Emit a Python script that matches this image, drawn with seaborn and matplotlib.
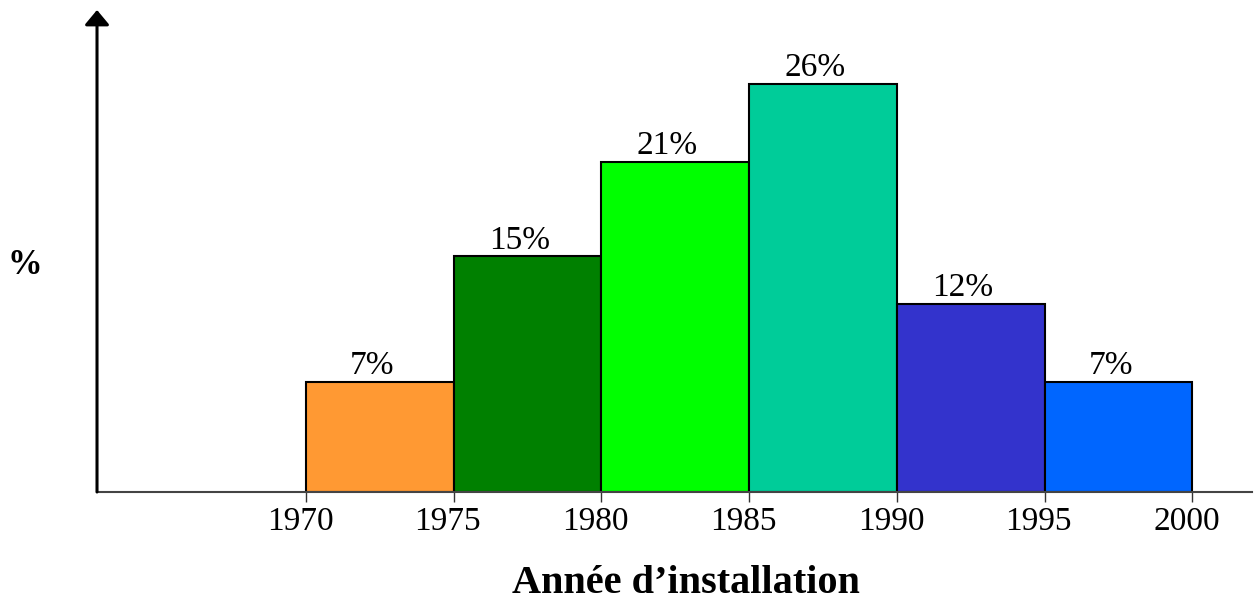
import numpy as np
import matplotlib
matplotlib.use("Agg")
import matplotlib.pyplot as plt
import matplotlib.transforms as mtrans
import seaborn as sns

# data
edges = [1970, 1975, 1980, 1985, 1990, 1995, 2000]
pcts = [7, 15, 21, 26, 12, 7]
labels = ["7%", "15%", "21%", "26%", "12%", "7%"]
colors = ["#FF9933", "#008000", "#00FF00", "#00CC99", "#3333CC", "#0066FF"]
ticks = [1970, 1975, 1980, 1985, 1990, 1995, 2000]

sns.set_style("white")
plt.rcParams['font.family'] = ['Liberation Serif', 'DejaVu Serif']
plt.rcParams['text.color'] = 'black'

fig = plt.figure(figsize=(12.55, 6.05), dpi=100)
ax = fig.add_axes([0.0773, 0.1868, 0.9207, 0.7967])

mids = [(a + b) / 2 for a, b in zip(edges[:-1], edges[1:])]
sns.histplot(x=mids, weights=pcts, bins=edges, ax=ax, stat="count",
             edgecolor="black", linewidth=1.5, alpha=1)

for p, c in zip(ax.patches, colors):
    p.set_facecolor(c)

# labels sit slightly left of bar centres in the original
shift = mtrans.ScaledTranslation(-8 / 100, 0, fig.dpi_scale_trans)
for m, v, lab in zip(mids, pcts, labels):
    ax.text(m, v + 0.05, lab, ha="center", va="bottom", fontsize=24,
            color="black", transform=ax.transData + shift)

ax.set_xlim(1962.93, 2002.03)
ax.set_ylim(0, 30.7)
ax.set_xticks(ticks)
ax.set_xticklabels([])
# tick labels drawn by hand, nudged a bit left like the original
tshift = mtrans.ScaledTranslation(-6 / 100, -15 / 100, fig.dpi_scale_trans)
for t in ticks:
    ax.text(t, 0, str(t), ha="center", va="top", fontsize=24, color="black",
            transform=ax.get_xaxis_transform() + tshift)
ax.set_yticks([])
ax.set_ylabel("")
ax.set_xlabel("Année d\u2019installation", fontsize=29, fontweight="bold",
              color="black")
ax.xaxis.set_label_coords(0.5095, -0.152)

for s in ["top", "right"]:
    ax.spines[s].set_visible(False)
ax.spines["left"].set_visible(False)
ax.spines["bottom"].set_color("#444444")
ax.spines["bottom"].set_linewidth(1.5)
ax.tick_params(axis="x", bottom=True, length=7, width=1, color="#333333", pad=6)

# y axis with arrow
ax.annotate("", xy=(0, 1.0), xytext=(0, 0), xycoords="axes fraction",
            arrowprops=dict(arrowstyle="-|>,head_length=0.9,head_width=0.75",
                            color="black", lw=2.2, shrinkA=0, shrinkB=0))

fig.text(25 / 1255, 1 - 265 / 605, "%", fontsize=25, fontweight="bold",
         ha="center", va="center", color="black")

fig.savefig("out.png", dpi=100)
